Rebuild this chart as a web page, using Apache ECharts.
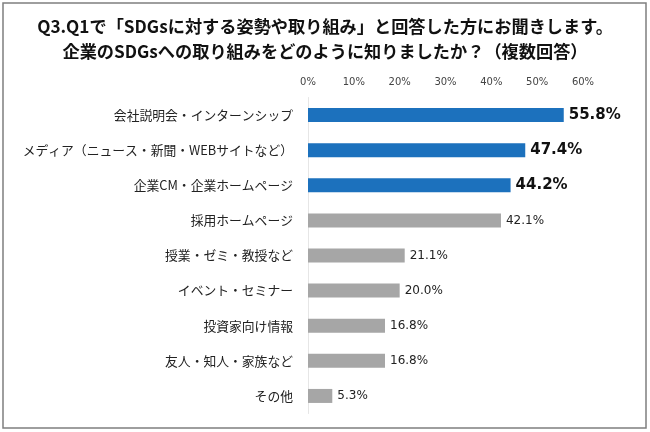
<!DOCTYPE html>
<html><head><meta charset="utf-8">
<script src="https://cdn.jsdelivr.net/npm/echarts@6/dist/echarts.min.js"></script>
<style>html,body{margin:0;padding:0;background:#fff}#c{width:650px;height:432px}</style>
</head><body><div id="c"></div>
<script>
const categories = ["会社説明会・インターンシップ","メディア（ニュース・新聞・WEBサイトなど）","企業CM・企業ホームページ","採用ホームページ","授業・ゼミ・教授など","イベント・セミナー","投資家向け情報","友人・知人・家族など","その他"];
const values = [55.8,47.4,44.2,42.1,21.1,20.0,16.8,16.8,5.3];
const highlightCount = 3;
const tickLabels = ["0%","10%","20%","30%","40%","50%","60%"];
const titleText = "Q3.Q1で「SDGsに対する姿勢や取り組み」と回答した方にお聞きします。\n企業のSDGsへの取り組みをどのように知りましたか？（複数回答）";

const font = '"Noto Sans CJK JP", "Noto Sans", sans-serif';
const chart = echarts.init(document.getElementById('c'));
chart.setOption({
  animation: false,
  textStyle: {fontFamily: font},
  graphic: [{type:'rect', shape:{x:3,y:3,width:643,height:425}, style:{fill:'none', stroke:'#7f7f7f', lineWidth:1.5}}],
  title: {text: titleText, left: 'center', top: 9,
    textStyle:{fontSize:17.2, fontWeight:'bold', color:'#111', lineHeight:25, fontFamily: font}},
  grid: {left:308, right:67, top:97.5, bottom:18.5},
  xAxis: {type:'value', position:'top', min:0, max:60, interval:10,
    axisLine:{show:false}, axisTick:{show:false}, splitLine:{show:false},
    axisLabel:{formatter:(v)=>tickLabels[v/10], fontSize:10, color:'#444', margin:10, fontFamily:'"DejaVu Sans", sans-serif'}},
  yAxis: {type:'category', inverse:true, data:categories,
    axisLine:{show:true, lineStyle:{color:'#e6e6e6'}}, axisTick:{show:false},
    axisLabel:{fontSize:12.8, color:'#222', margin:15}},
  series: [{type:'bar', barWidth:14,
    data: values.map((v,i)=>({value:v,
      itemStyle:{color: i<highlightCount ? '#1c71bd' : '#a6a6a6'},
      label: i<highlightCount ? {fontSize:15, fontWeight:'bold', color:'#111'} : {fontSize:12, color:'#222'}})),
    label:{show:true, position:'right', distance:5, formatter:(p)=>p.value.toFixed(1)+'%', fontFamily:'"DejaVu Sans", sans-serif'}
  }]
});
</script></body></html>
